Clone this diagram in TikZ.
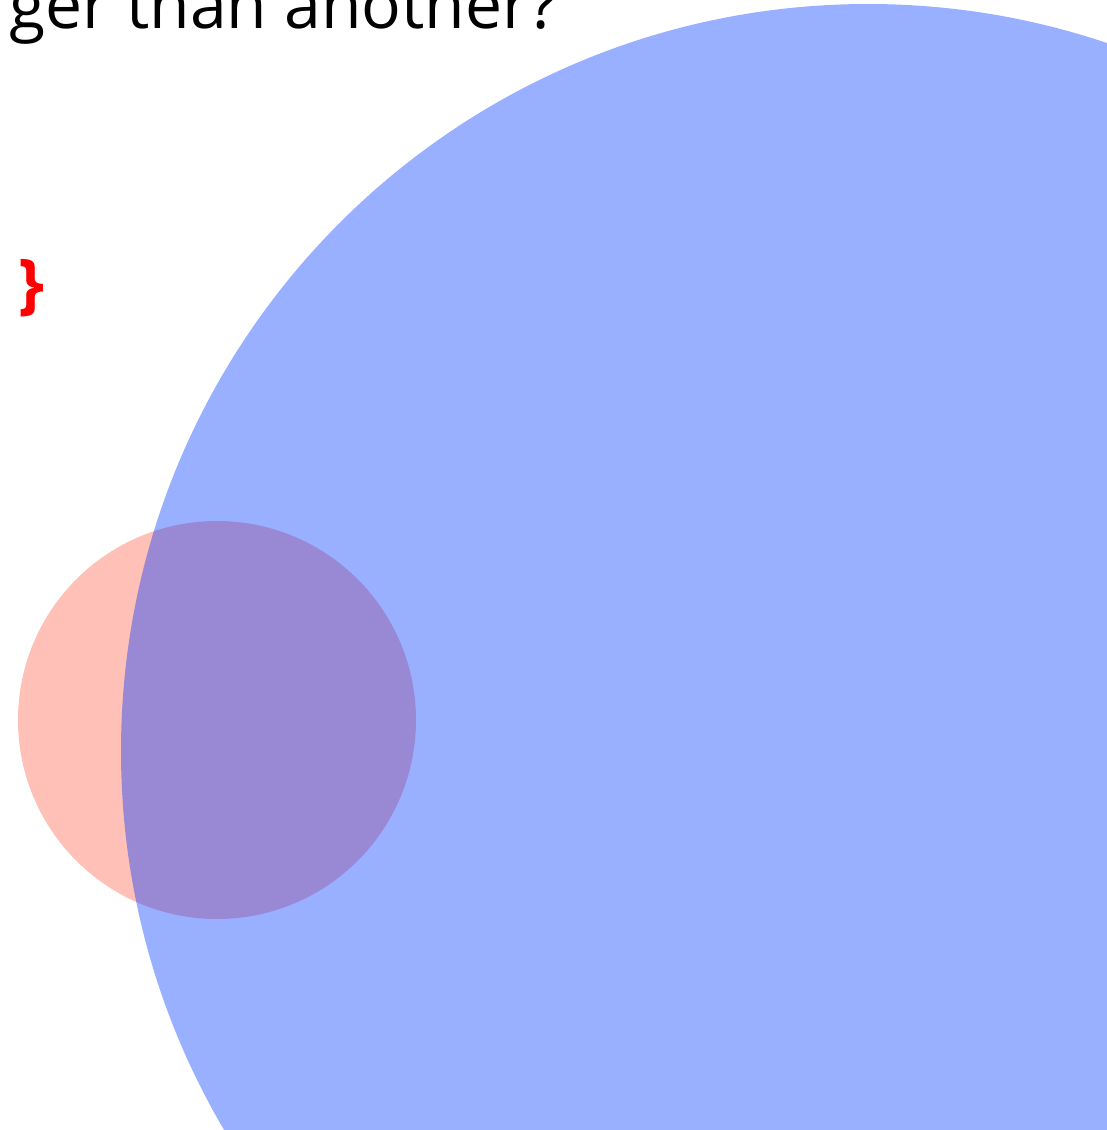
\documentclass[tikz,border=0pt]{standalone}
\usepackage{fontspec}
\setmainfont{Open Sans}
\definecolor{pinkc}{RGB}{255,192,184}
\definecolor{bluec}{RGB}{0,55,255}
\begin{document}
\begin{tikzpicture}[x=1pt,y=-1pt,
  disc/.style={draw=none},
  title/.style={anchor=base west,inner sep=0pt,font=\fontsize{66}{79}\selectfont},
  bracemark/.style={inner sep=0pt,text=red,font=\bfseries\fontsize{66}{79}\selectfont}]
\useasboundingbox (0,0) rectangle (1107,1130);
\clip (0,0) rectangle (1107,1130);
\fill[pinkc] (217,720) circle[radius=199pt];
\fill[bluec,fill opacity=0.4] (868,751) circle[radius=747pt];
\node[title] (t) at (9,28) {ger than another?};
\node[bracemark] (b) at (32,288) {\}};
\end{tikzpicture}
\end{document}
